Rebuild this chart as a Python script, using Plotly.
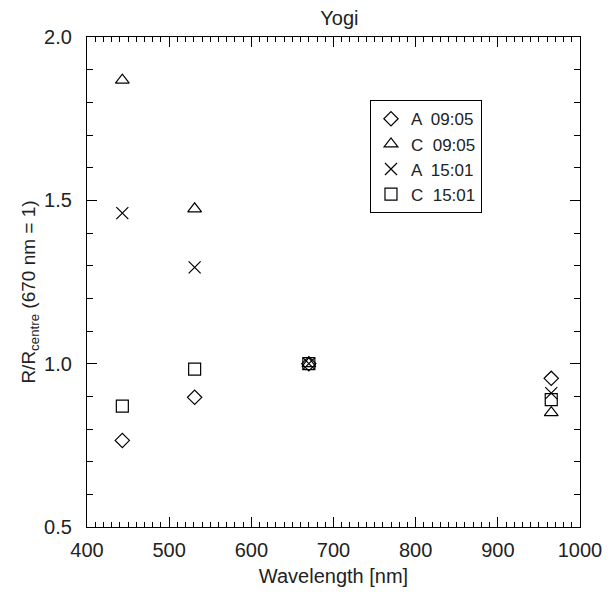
import plotly.graph_objects as go

wavelengths = [443, 531, 670, 965]
a_0905 = [0.765, 0.897, 1.0, 0.955]
c_0905 = [1.868, 1.474, 1.0, 0.85]
a_1501 = [1.461, 1.295, 1.0, 0.91]
c_1501 = [0.870, 0.983, 1.0, 0.89]

series = [
    ("A  09:05", a_0905, "diamond-open", 11),
    ("C  09:05", c_0905, "triangle-up-open", 12),
    ("A  15:01", a_1501, "x-thin-open", 12),
    ("C  15:01", c_1501, "square-open", 12),
]

FONT = "Liberation Sans"
TXT = "#222"
fig = go.Figure()
for name, vals, sym, sz in series:
    fig.add_trace(go.Scatter(
        x=wavelengths, y=vals, mode="markers", name=name,
        marker=dict(symbol=sym, size=sz, color="black", line=dict(color="black", width=1.2)),
    ))

axis_common = dict(
    showline=True, linecolor="black", linewidth=1.2, mirror="allticks",
    ticks="inside", ticklen=10, tickwidth=1, tickcolor="black",
    showgrid=False, zeroline=False, automargin=False,
    tickfont=dict(family=FONT, size=20, color=TXT),
)

fig.update_layout(
    width=608, height=584,
    margin=dict(l=79, r=36, t=29, b=65),
    paper_bgcolor="white", plot_bgcolor="white",
    title=dict(text="Yogi", x=0.545, xanchor="center", y=0.995, yanchor="top",
               font=dict(family=FONT, size=20, color=TXT)),
    showlegend=True,
    legend=dict(x=0.574, y=0.871, xanchor="left", yanchor="top",
                bordercolor="black", borderwidth=1, bgcolor="white",
                font=dict(family=FONT, size=17, color=TXT),
                itemwidth=30, tracegroupgap=0),
    xaxis=dict(range=[400, 1000], dtick=100, tick0=400, ticklabelstandoff=5,
               minor=dict(dtick=10, ticks="inside", ticklen=5, tickcolor="black"),
               title=dict(text="Wavelength [nm]", font=dict(family=FONT, size=20, color=TXT), standoff=8),
               **axis_common),
    yaxis=dict(range=[0.5, 2.0], dtick=0.5, tick0=0.5, tickformat=".1f", ticklabelstandoff=10,
               minor=dict(dtick=0.1, ticks="inside", ticklen=6, tickcolor="black"),
               **axis_common),
    annotations=[dict(
        text="R/R<sub>centre</sub> (670 nm = 1)", textangle=-90,
        xref="paper", yref="paper", x=-0.116, y=0.48,
        xanchor="center", yanchor="middle", showarrow=False,
        font=dict(family=FONT, size=19, color=TXT),
    )],
)

fig.write_html("out.html")
